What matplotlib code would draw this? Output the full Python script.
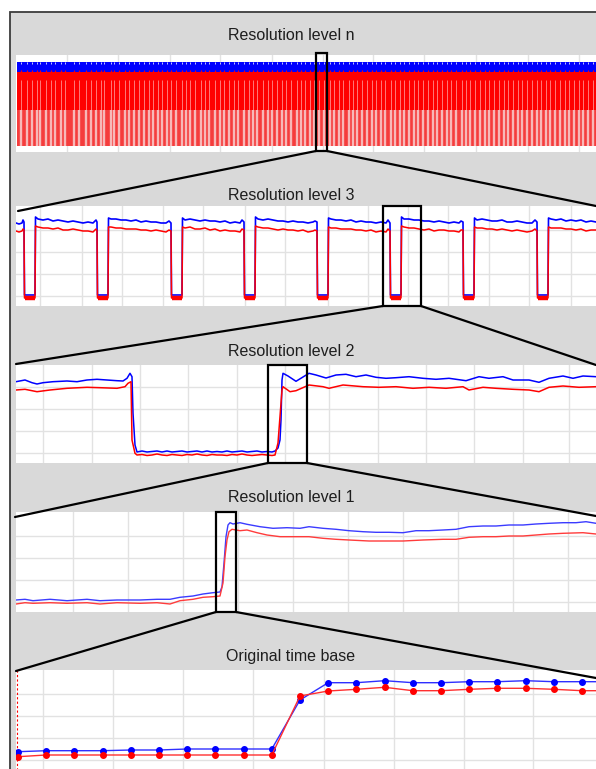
import numpy as np
import matplotlib.pyplot as plt
from matplotlib.patches import Rectangle, ConnectionPatch

# ---- data (x = samples from left edge of each view, y = signal level) ----
# resolution level n: whole recording, shown as bands + dip lines
n_x = [1, 580]
n_blue_band = [80, 90]
n_red_band = [42, 80]
n_dip_band = [6, 42]
n_gaps = [5, 11, 16, 21, 24, 30, 35, 39, 45, 49, 58, 63, 70, 75, 80, 85, 88, 95, 98, 103,
          109, 113, 118, 123, 128, 133, 137, 142, 146, 151, 155, 160, 166, 170, 174, 179,
          185, 189, 193, 199, 204, 208, 213, 218, 222, 228, 233, 237, 241, 247, 252, 256,
          261, 266, 270, 275, 281, 285, 289, 294, 298, 303, 308, 314, 318, 323, 327, 333,
          337, 341, 346, 351, 356, 360, 365, 369, 375, 379, 384, 388, 393, 398, 402, 407,
          412, 417, 421, 426, 431, 435, 440, 446, 450, 454, 459, 464, 469, 473, 478, 483,
          488, 492, 497, 502, 506, 511, 516, 521, 525, 530, 534, 539, 544, 549, 553, 558,
          563, 567, 572, 577]
n_grid = [51, 102, 154, 204, 256, 307, 357, 408, 460, 512, 563]

# resolution level 3
l3_x = [0, 3, 6, 7,
        8, 8.5, 19, 19.5, 22, 27, 32, 37, 42, 47, 52, 57, 62, 67, 72, 77, 80,
        81, 81.5, 92, 92.5, 95, 100, 105, 110, 115, 120, 125, 130, 135, 140, 145, 150, 153,
        155, 155.5, 166, 166.5, 169, 174, 179, 184, 189, 194, 199, 204, 209, 214, 219, 224, 226,
        228, 228.5, 239, 239.5, 242, 247, 252, 257, 262, 267, 272, 277, 282, 287, 292, 297, 299,
        301, 301.5, 312, 312.5, 315, 320, 325, 330, 335, 340, 345, 350, 355, 360, 365, 370, 372,
        374, 374.5, 385, 385.5, 388, 393, 398, 403, 408, 413, 418, 423, 428, 433, 438, 443, 445,
        447, 447.5, 458, 458.5, 461, 466, 471, 476, 481, 486, 491, 496, 501, 506, 511, 516, 519,
        521, 521.5, 532, 532.5, 535, 540, 545, 550, 555, 560, 565, 570, 575, 580]
l3_blue = [83, 82, 83, 86,
           84, 11, 11, 89, 87, 86, 87, 85, 86, 85, 84, 85, 84, 83, 84, 83, 86,
           84, 11, 11, 88, 87, 87, 86, 86, 85, 86, 84, 85, 84, 84, 83, 83, 85,
           83, 11, 11, 88, 86, 87, 86, 85, 86, 85, 85, 84, 85, 83, 84, 83, 86,
           84, 11, 11, 89, 87, 86, 87, 86, 85, 85, 84, 85, 84, 84, 83, 84, 85,
           84, 11, 11, 88, 87, 86, 86, 85, 86, 84, 85, 84, 84, 83, 84, 83, 86,
           83, 11, 11, 89, 87, 87, 86, 86, 85, 85, 84, 85, 84, 83, 84, 83, 85,
           84, 11, 11, 88, 86, 87, 86, 85, 85, 86, 84, 84, 85, 84, 83, 83, 86,
           84, 11, 11, 88, 87, 86, 87, 85, 86, 85, 86, 84, 85, 84]
l3_red = [75, 74, 75, 77,
          76, 8, 8, 80, 79, 78, 78, 77, 78, 76, 76, 77, 76, 75, 75, 74, 77,
          75, 8, 8, 79, 79, 78, 78, 77, 77, 77, 76, 76, 75, 76, 75, 74, 76,
          75, 8, 8, 79, 78, 79, 77, 77, 78, 76, 77, 75, 76, 75, 75, 74, 77,
          76, 8, 8, 80, 79, 78, 78, 77, 76, 77, 76, 76, 75, 76, 74, 75, 76,
          75, 8, 8, 79, 78, 78, 77, 77, 77, 76, 76, 75, 76, 74, 75, 74, 77,
          75, 8, 8, 80, 79, 78, 78, 77, 76, 77, 75, 76, 76, 75, 75, 74, 76,
          76, 8, 8, 79, 78, 78, 77, 77, 76, 77, 76, 75, 76, 75, 74, 75, 77,
          75, 8, 8, 79, 78, 78, 78, 77, 77, 76, 77, 75, 76, 76]
l3_grid = [24, 66, 106, 147, 187, 229, 269, 312, 352, 392, 432, 473, 513, 555]

# resolution level 2
l2_bottom_x = [121, 126, 131, 136, 141, 146, 151, 156, 161, 166, 171, 176, 181, 186, 191,
               196, 201, 206, 211, 216, 221, 226, 231, 236, 241, 246, 251, 256, 259]
l2_blue_x = ([0, 9, 16, 21, 27, 37, 51, 61, 71, 81, 91, 101, 107, 111, 114, 116, 117, 119]
             + l2_bottom_x
             + [262, 264, 265, 266, 267, 272, 280, 293, 300, 310, 320, 330, 340, 350, 360,
                370, 380, 393, 407, 420, 433, 450, 463, 473, 487, 497, 513, 523, 533, 547,
                557, 567, 580])
l2_blue = ([81.3, 83, 80.3, 79, 80.3, 81.3, 82, 81.3, 83, 83.7, 83, 82.3, 82, 84.7, 89.7,
            86.3, 50, 18]
           + [11, 12, 11, 11.5, 12, 11, 12, 11, 11.5, 12, 11, 11.5, 12, 11, 12, 11, 11.5,
              11, 12, 11, 11.5, 12, 11, 11.5, 12, 11, 11.5, 11, 12]
           + [15, 23, 43, 83, 89.7, 87, 81.7, 89.7, 88, 85, 88, 88.7, 86.3, 88, 85.7, 84.7,
              85.3, 86.3, 84.7, 83.7, 84.7, 82.3, 86.3, 84.7, 86.3, 83, 83, 80.7, 84.7, 87,
              84.7, 87, 86.3])
l2_red_x = ([0, 9, 21, 34, 51, 71, 84, 101, 109, 112, 115, 116, 119]
            + l2_bottom_x
            + [262, 266, 267, 274, 280, 293, 307, 313, 327, 347, 363, 380, 397, 413, 430,
               447, 453, 467, 480, 497, 513, 523, 533, 547, 563, 580])
l2_red = ([73, 73.7, 71.3, 73, 74.7, 75.7, 75.3, 74.7, 76.3, 79.7, 81.3, 23, 9.7]
          + [8, 8.5, 7.5, 8, 9, 8, 7.5, 8.5, 8, 7.5, 8.5, 8, 9, 8, 7.5, 8.5, 8, 8, 7.5,
             8.5, 8, 9, 8, 7.5, 8, 8.5, 8, 7.5, 8]
          + [20, 73, 76.3, 71.3, 72.3, 78, 76.3, 74.7, 78, 76.3, 75.7, 76.3, 74.7, 75.7,
             74.7, 76.3, 73, 75.7, 74.7, 73.7, 73, 71.3, 75.7, 77, 75.7, 76.3])
l2_grid = [27, 76, 124, 172, 221, 269, 313, 362, 410, 458, 507, 553]

# resolution level 1
l1_blue_x = [0, 9, 17, 34, 51, 71, 84, 101, 124, 141, 154, 164, 177, 187, 197, 204, 206,
             208, 210, 212, 214, 217, 224, 231, 244, 257, 271, 284, 293, 307, 320, 333,
             347, 360, 373, 387, 400, 413, 427, 440, 453, 467, 480, 493, 507, 520, 533,
             547, 560, 570, 580]
l1_blue = [12, 12.7, 11.3, 12.7, 11.3, 12.7, 11.3, 12, 12, 12.7, 12.7, 14.7, 16, 18, 19.3,
           20, 25.3, 49, 75.3, 87, 89.3, 88, 89.3, 87.7, 85.3, 83.7, 84.3, 83.7, 85.3,
           83.7, 82.7, 81.3, 80.3, 79.7, 79.7, 79.3, 81.3, 81.3, 82, 82.7, 85.3, 86, 86,
           87, 87, 88, 88.7, 89.3, 89.3, 90.3, 88.7]
l1_red_x = [0, 9, 17, 34, 51, 71, 84, 101, 124, 141, 154, 164, 177, 187, 197, 204, 207,
            209, 211, 213, 216, 224, 231, 241, 251, 264, 280, 293, 307, 320, 333, 353,
            373, 387, 407, 427, 440, 453, 467, 480, 493, 507, 520, 533, 547, 567, 580]
l1_red = [8, 9.3, 8.7, 9.3, 8.7, 9.3, 8, 9.3, 8.7, 9.3, 8, 11.3, 12.7, 14.7, 15.3, 16, 29,
          55.3, 72, 80.3, 82.7, 81.3, 82, 79.3, 77, 75.3, 75.3, 75.3, 73.7, 72.7, 72, 71,
          71, 71, 72, 72.7, 72.7, 74.7, 75.3, 75.3, 76, 76, 77, 78, 78.7, 79.3, 78]
l1_grid = [57, 112, 167, 222, 277, 332, 387, 442, 497, 552]

# original time base (one point per sample)
l0_k = list(range(-1, 22))
l0_blue = [18.3, 18.3, 19.3, 19.3, 19.3, 20, 20, 21, 21, 21, 21, 70, 87.3, 87.3, 89.3,
           87.3, 87.3, 88.3, 88.3, 89.3, 88.3, 88.3, 88.3]
l0_red = [13.3, 13.3, 15, 15, 15, 15, 15, 15, 15, 15, 15, 74, 79, 80.7, 82.7, 79.3, 79.3,
          80.7, 81.7, 81.7, 80.7, 79.3, 79.3]
l0_grid = [0.9, 3.37, 5.85, 8.33, 10.85, 13.33, 15.8, 18.26]
l0_cursor = -0.05

grid_y = [10, 32, 54, 76]

BLUE = '#0000ff'
RED = '#ff0000'
GRID = '#e2e2e2'

W, H = 596, 769
fig = plt.figure(figsize=(W / 100, H / 100), dpi=100)
fig.patch.set_facecolor('white')


def px_axes(x0, y0, x1, y1):
    return fig.add_axes([x0 / W, 1 - y1 / H, (x1 - x0) / W, (y1 - y0) / H])


# gray frame
bg = fig.add_axes([0, 0, 1, 1])
bg.set_xlim(0, W)
bg.set_ylim(H, 0)
bg.axis('off')
bg.add_patch(Rectangle((10, 12), 620, 800, fc='#d9d9d9', ec='#3c3c3c', lw=1.3))

titles = [('Resolution level n', 35), ('Resolution level 3', 196),
          ('Resolution level 2', 351), ('Resolution level 1', 498),
          ('Original time base', 657)]
for t, y in titles:
    bg.text(291, y, t, ha='center', va='center', fontsize=11.5, color='#1e1e1e',
            family=['Liberation Sans', 'DejaVu Sans'])


def style(ax, xlim, ylim, gx, gy):
    ax.set_facecolor('white')
    ax.set_xlim(*xlim)
    ax.set_ylim(*ylim)
    for s in ax.spines.values():
        s.set_visible(False)
    ax.set_xticks(gx)
    ax.set_yticks(gy)
    ax.tick_params(length=0, labelbottom=False, labelleft=False)
    ax.grid(True, color=GRID, lw=1.0)
    ax.set_axisbelow(True)


ax_n = px_axes(16, 55, 596, 152)
ax3 = px_axes(16, 206, 596, 306)
ax2 = px_axes(16, 365, 596, 463)
ax1 = px_axes(16, 512, 596, 612)
ax0 = px_axes(16, 670, 596, 770)

style(ax_n, (0, 580), (0, 97), n_grid, [])
style(ax3, (0, 580), (0, 100), l3_grid, grid_y)
style(ax2, (0, 580), (0, 98), l2_grid, grid_y)
style(ax1, (0, 580), (0, 100), l1_grid, grid_y)
style(ax0, (-0.071, 20.496), (0, 100), l0_grid, grid_y)

# level n
ax_n.fill_between(n_x, *n_blue_band, color=BLUE, lw=0)
ax_n.fill_between(n_x, *n_red_band, color=RED, lw=0)
ax_n.fill_between(n_x, *n_dip_band, color='#f53c3c', lw=0)
ax_n.vlines(n_gaps, n_red_band[0], n_red_band[0] + 30, color='#ff8c8c', lw=0.6)
ax_n.vlines(n_gaps, n_dip_band[0], n_dip_band[1], color='#f7b8b8', lw=1.7)
ax_n.vlines(n_gaps, n_blue_band[0] - 2, n_blue_band[0] + 2, color=RED, lw=0.9)
ax_n.vlines(n_gaps, n_blue_band[1] - 1.5, n_blue_band[1], color='#c8c8ff', lw=0.7)

# level 3
l3_red_arr = np.array(l3_red, dtype=float)
ax3.plot(l3_x, l3_blue, color=BLUE, lw=1.2)
ax3.plot(l3_x, l3_red, color=RED, lw=1.1)
ax3.plot(l3_x, np.where(l3_red_arr < 20, l3_red_arr, np.nan), color=RED, lw=3.2,
         solid_capstyle='butt')

# level 2
ax2.plot(l2_blue_x, l2_blue, color=BLUE, lw=1.1)
ax2.plot(l2_red_x, l2_red, color=RED, lw=1.1)

# level 1
ax1.plot(l1_blue_x, l1_blue, color='#3b3bff', lw=1.0)
ax1.plot(l1_red_x, l1_red, color='#ff3b3b', lw=1.0)

# original time base
ax0.axvline(l0_cursor, color=RED, lw=0.8, ls=(0, (2, 2)))
ax0.plot(l0_k, l0_blue, color='#2f2fff', lw=1.0, marker='o', ms=4.0, mfc=BLUE, mec=BLUE)
ax0.plot(l0_k, l0_red, color='#ff2f2f', lw=1.0, marker='o', ms=4.0, mfc=RED, mec=RED)

# zoom boxes and connecting lines
boxes = [(ax_n, 300, 1, 11, 98), (ax3, 367, 0, 38, 100),
         (ax2, 252, 0, 39, 98), (ax1, 200, 0, 20, 100)]
for ax, x, y, w, h in boxes:
    ax.add_patch(Rectangle((x, y), w, h, fill=False, ec='black', lw=1.6, clip_on=False,
                           zorder=10))

links = [(ax_n, ax3, (300, 1), (2, 95), (311, 1), (580, 100)),
         (ax3, ax2, (367, 0), (0, 99), (405, 0), (580, 98)),
         (ax2, ax1, (252, 0), (-1, 95), (291, 0), (580, 96)),
         (ax1, ax0, (200, 0), (-0.071, 99), (220, 0), (20.496, 92))]
for a, b, pa, pb, qa, qb in links:
    for p, q in ((pa, pb), (qa, qb)):
        con = ConnectionPatch(xyA=p, coordsA=a.transData, xyB=q, coordsB=b.transData,
                              color='black', lw=1.6)
        fig.add_artist(con)

fig.savefig('out.png', dpi=100)
